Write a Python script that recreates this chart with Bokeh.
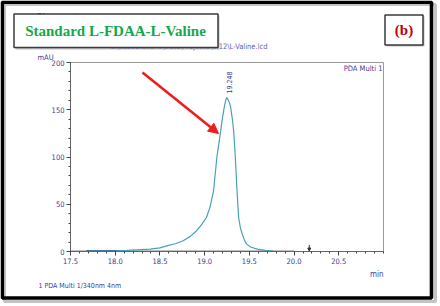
from bokeh.plotting import figure
from bokeh.embed import file_html
from bokeh.resources import INLINE
from bokeh.layouts import column
from bokeh.models import (FixedTicker, PrintfTickFormatter, Label, Arrow, NormalHead, Range1d)
from bokeh.core.properties import value
import math

# ---- data ----
time_min = [17.70, 18.00, 18.13, 18.25, 18.39, 18.50, 18.575, 18.68, 18.76, 18.84, 18.91,
            18.97, 19.02, 19.06, 19.10, 19.137, 19.16, 19.18, 19.20, 19.22, 19.235,
            19.248, 19.26, 19.275, 19.29, 19.31, 19.324, 19.343, 19.362, 19.38, 19.40,
            19.42, 19.45, 19.47, 19.52, 19.59, 19.68, 19.77]
signal_mau = [0.5, 0.8, 1.2, 1.8, 2.5, 3.8, 6.0, 8.5, 11.4, 16.0, 22.0,
              29.0, 36.0, 47.0, 64.5, 100.0, 115.0, 128.0, 142.0, 153.0, 160.0,
              163.0, 161.0, 158.0, 153.0, 140.0, 128.0, 100.0, 64.5, 36.0, 25.0,
              18.5, 11.0, 7.8, 4.5, 2.5, 1.2, 0.5]
pre_x = [17.68, 18.13]
pre_y = [0.6, 0.8]
baseline_x = [17.5, 20.0]
baseline_y = [0.0, 0.0]
peak_rt = 19.248
peak_label = "19.248"
x_ticks = [17.5, 18.0, 18.5, 19.0, 19.5, 20.0, 20.5]
y_ticks = [0, 50, 100, 150, 200]
chart_title = "Standard L-FDAA-L-Valine"
panel_tag = "(b)"

W, H = 440, 306
L, R, T, B = 70, 57, 62, 55
X0, X1 = 17.5, 21.0
Y0, Y1 = 0.0, 200.0
fw, fh = W - L - R, H - T - B

def px(xp):
    return X0 + (xp - L) * (X1 - X0) / fw

def py(yp):
    return Y0 + (T + fh - yp) * (Y1 - Y0) / fh

NAVY = "#3c3c98"
TEAL = "#4aa0b4"
FONT = "DejaVu Sans Condensed"

# ---------- background page: frame, boxes, outer texts (pixel coordinates) ----------
d = figure(width=W, height=H, output_backend="svg", toolbar_location=None,
           x_range=Range1d(0, W), y_range=Range1d(H, 0),
           x_axis_type=None, y_axis_type=None, min_border=0)
d.outline_line_color = None
d.background_fill_color = "white"
d.border_fill_color = "white"

d.quad(left=[4], right=[435], top=[4], bottom=[301], fill_alpha=0,
       line_color="#c4c4c4", line_width=3)
d.quad(left=[1.8], right=[431], top=[1.8], bottom=[297.5], fill_alpha=0,
       line_color="black", line_width=3.6)

def txt(x, y, s, size, color, align="left", baseline="middle", font=FONT, style="normal"):
    d.text(x=[x], y=[y], text=[s], text_font=value(font), text_font_size=size,
           text_color=color, text_align=align, text_baseline=baseline,
           text_font_style=style)

txt(35, 16.5, "Chromatogram", "11px", "#333333")
txt(267, 46, "C:\\LabSolutions\\Data\\Project1\\1.12\\L-Valine.lcd", "7.5px", "#6060b8",
    align="right")
txt(37, 57, "mAU", "7.5px", NAVY)
txt(383, 274, "min", "8px", NAVY, align="right")
txt(38, 285, "1  PDA Multi 1/340nm 4nm", "7px", NAVY)

d.quad(left=[15], right=[219], top=[15], bottom=[49], fill_color="#9a9a9a",
       line_color=None, fill_alpha=0.6)
d.quad(left=[13.5], right=[217.5], top=[13.5], bottom=[47], fill_color="white",
       line_color="#3a3a3a", line_width=1.5)
txt(115, 30.5, chart_title, "15px", "#14a84a", align="center",
    font="Liberation Serif", style="bold")
d.quad(left=[386], right=[424], top=[16], bottom=[46], fill_color="#9a9a9a",
       line_color=None, fill_alpha=0.6)
d.quad(left=[384.5], right=[422.5], top=[14.5], bottom=[44.5], fill_color="white",
       line_color="#3a3a3a", line_width=1.5)
txt(403.5, 29.5, panel_tag, "15px", "#c00000", align="center",
    font="Liberation Serif", style="bold")

# ---------- chromatogram ----------
p = figure(width=W, height=H, output_backend="svg", toolbar_location=None,
           x_range=Range1d(X0, X1), y_range=Range1d(Y0, Y1),
           min_border_left=L, min_border_right=R, min_border_top=T, min_border_bottom=B)
p.grid.visible = False
p.outline_line_color = "#9a9a9a"
p.outline_line_width = 1
p.background_fill_alpha = 0
p.border_fill_alpha = 0

for ax in (p.xaxis[0], p.yaxis[0]):
    ax.axis_line_color = "#666666"
    ax.major_tick_line_color = "#444444"
    ax.minor_tick_line_color = "#444444"
    ax.major_tick_in = 0
    ax.minor_tick_in = 0
    ax.major_tick_out = 4
    ax.minor_tick_out = 2
    ax.major_label_text_font = FONT
    ax.major_label_text_font_size = "7.5px"
    ax.major_label_text_color = NAVY
    ax.major_label_standoff = 2

p.xaxis[0].ticker = FixedTicker(ticks=x_ticks,
                                minor_ticks=[round(17.5 + 0.1 * i, 1) for i in range(36)])
p.xaxis[0].formatter = PrintfTickFormatter(format="%.1f")
p.yaxis[0].ticker = FixedTicker(ticks=y_ticks, minor_ticks=list(range(0, 201, 10)))

p.line(baseline_x, baseline_y, line_color="black", line_width=1.5)
p.line(pre_x, pre_y, line_color="#2a3a80", line_width=1.5)
p.line(time_min, signal_mau, line_color=TEAL, line_width=1.2)

p.add_layout(Arrow(x_start=20.17, y_start=7, x_end=20.17, y_end=0.5,
                   line_color="#333333", line_width=1,
                   end=NormalHead(size=3, fill_color="#333333", line_color="#333333")))

p.add_layout(Label(x=peak_rt + 0.025, y=py(93), text=peak_label, angle=math.pi / 2,
                   text_font=FONT, text_font_size="7px", text_color=NAVY,
                   text_baseline="middle", text_align="left"))
p.add_layout(Label(x=px(382), y=py(63), text="PDA Multi 1", text_font=FONT,
                   text_font_size="7.5px", text_color=NAVY, text_align="right",
                   text_baseline="top"))

p.add_layout(Arrow(x_start=px(142), y_start=py(72), x_end=px(218), y_end=py(133),
                   line_color="#ee1c1c", line_width=2.5,
                   end=NormalHead(size=10, fill_color="#ee1c1c", line_color="#ee1c1c")))

top = column(d, spacing=0, width=W, height=H)
bottom = column(p, spacing=0, width=W, height=H)
bottom.margin = (-H, 0, 0, 0)
layout = column(top, bottom, spacing=0)
open("out.html", "w").write(file_html(layout, INLINE))
